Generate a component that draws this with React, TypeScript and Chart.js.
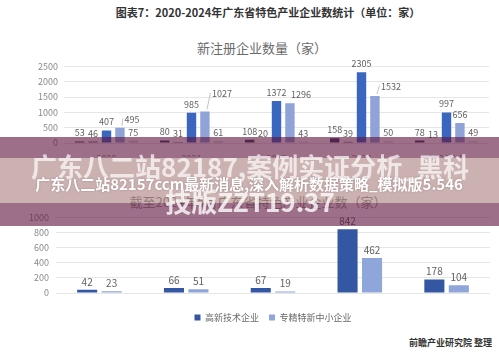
import React, { useEffect, useRef } from "react";
import { Chart, registerables } from "chart.js";

Chart.register(...registerables);

const FONT = '"Noto Sans CJK SC", "Noto Sans", sans-serif';
Chart.defaults.font.family = FONT;

// ---------- data ----------
const years = ["2020", "2021", "2022", "2023", "2024.1-5"];
const industries = ["新能源汽车", "生物医药", "人工智能", "集成电路", "无人机"];
const newEnergyNew = [53, 80, 108, 158, 78];
const bioMedNew = [46, 31, 20, 39, 13];
const aiNew = [407, 985, 1372, 2305, 997];
const icNew = [495, 1027, 1296, 1532, 656];
const droneNew = [75, 61, 43, 50, 49];
const topYTicks = [0, 500, 1000, 1500, 2000, 2500];

const seriesNames = ["高新技术企业", "专精特新中小企业"];
const highTech = [42, 66, 67, 842, 178];
const smeSpecial = [23, 51, 19, 462, 104];
const bottomYTicks = [0, 200, 400, 600, 800, 1000];

// ---------- styles ----------
const topColors = ["#3a4268", "#6f6f78", "#3a66bf", "#8fa3d8", "#c8c8cc"];
const bottomColors = ["#3457a3", "#8ea6d9"];
// label offsets (dx, dy) for the 4th series of the top chart
const topLabelOffsets: Record<number, number[][]> = {
  3: [[12, 0], [17, -9], [11, 0], [16, -1], [0, 0]],
};

function makeLabelPlugin(id: string, size: number, color: string, gap: number, offsets?: Record<number, number[][]>) {
  return {
    id,
    afterDatasetsDraw(chart: any) {
      const ctx = chart.ctx;
      ctx.save();
      ctx.font = `${size}px ${FONT}`;
      ctx.fillStyle = color;
      ctx.textAlign = "center";
      ctx.textBaseline = "middle";
      chart.data.datasets.forEach((ds: any, di: number) => {
        const meta = chart.getDatasetMeta(di);
        meta.data.forEach((bar: any, i: number) => {
          const off = offsets && offsets[di] ? offsets[di][i] : [0, 0];
          const x = bar.x + off[0];
          const y = bar.y - gap + off[1];
          const txt = String(ds.data[i]);
          if (off[0] >= 12) {
            const w = ctx.measureText(txt).width;
            ctx.strokeStyle = "#b5b5b5";
            ctx.lineWidth = 0.8;
            ctx.beginPath();
            ctx.moveTo(bar.x + 2, bar.y - 2);
            ctx.lineTo(x - w / 2 - 1.5, y - 1);
            ctx.stroke();
          }
          ctx.fillText(txt, x, y);
        });
      });
      ctx.restore();
    },
  };
}

const plainTick = (v: any) => String(v);

function topConfig(): any {
  const series = [newEnergyNew, bioMedNew, aiNew, icNew, droneNew];
  return {
    type: "bar",
    data: {
      labels: years,
      datasets: series.map((d, i) => ({
        label: industries[i],
        data: d,
        backgroundColor: topColors[i],
        categoryPercentage: 0.79,
        barPercentage: 0.7,
      })),
    },
    options: {
      responsive: false,
      animation: false,
      layout: { padding: { top: 8, right: 10, left: 0, bottom: 0 } },
      plugins: { legend: { display: false }, tooltip: { enabled: false }, title: { display: false } },
      scales: {
        x: {
          grid: { display: false },
          border: { display: false },
          ticks: { font: { size: 9 }, color: "#8a8a8a", padding: 2, maxRotation: 0, autoSkip: false },
          afterFit: (s: any) => { s.height = 14; },
        },
        y: {
          min: 0,
          max: 2500,
          afterBuildTicks: (s: any) => { s.ticks = topYTicks.map((v) => ({ value: v })); },
          ticks: { font: { size: 9 }, color: "#8a8a8a", padding: 6, callback: plainTick },
          grid: { color: "#e6e6e6", drawTicks: false, lineWidth: 1 },
          border: { display: false },
          afterFit: (s: any) => { s.width = 64; },
        },
      },
    },
    plugins: [makeLabelPlugin("topLabels", 9, "#5f5f5f", 8.5, topLabelOffsets)],
  };
}

function bottomConfig(): any {
  const series = [highTech, smeSpecial];
  return {
    type: "bar",
    data: {
      labels: industries,
      datasets: series.map((d, i) => ({
        label: seriesNames[i],
        data: d,
        backgroundColor: bottomColors[i],
        categoryPercentage: 0.564,
        barPercentage: 0.82,
      })),
    },
    options: {
      responsive: false,
      animation: false,
      layout: { padding: { top: 12, right: 9, left: 0, bottom: 0 } },
      plugins: {
        tooltip: { enabled: false },
        legend: {
          position: "bottom",
          fullSize: false,
          labels: { boxWidth: 6, boxHeight: 6, padding: 10, font: { size: 9 }, color: "#6a6a6a" },
        },
      },
      scales: {
        x: {
          grid: { display: false },
          border: { display: false },
          ticks: { font: { size: 9 }, color: "#7a7a7a", padding: 7, maxRotation: 0, autoSkip: false },
          afterFit: (s: any) => { s.height = 10; },
        },
        y: {
          min: 0,
          max: 1000,
          afterBuildTicks: (s: any) => { s.ticks = bottomYTicks.map((v) => ({ value: v })); },
          ticks: { font: { size: 9 }, color: "#8a8a8a", padding: 7, callback: plainTick },
          grid: { color: "#e6e6e6", drawTicks: false },
          border: { display: false },
          afterFit: (s: any) => { s.width = 56; },
        },
      },
    },
    plugins: [makeLabelPlugin("bottomLabels", 10, "#5f5f5f", 8, undefined)],
  };
}

function ChartCanvas({ make, top, width, height }: { make: () => any; top: number; width: number; height: number }) {
  const ref = useRef<HTMLCanvasElement>(null);
  useEffect(() => {
    const chart = new Chart(ref.current as HTMLCanvasElement, make());
    return () => chart.destroy();
  }, []);
  return (
    <canvas
      ref={ref}
      width={width}
      height={height}
      style={{ position: "absolute", left: 0, top, width, height }}
    />
  );
}

function Txt({ x, y, size, color, bold, children, extra }: any) {
  return (
    <div
      style={{
        position: "absolute",
        left: x,
        top: y,
        transform: "translate(-50%, -50%)",
        whiteSpace: "nowrap",
        fontFamily: FONT,
        fontSize: size,
        lineHeight: 1,
        color,
        fontWeight: bold ? 700 : 400,
        ...(extra || {}),
      }}
    >
      {children}
    </div>
  );
}

export default function App() {
  return (
    <div
      style={{
        position: "absolute",
        left: 0,
        top: 0,
        width: 499,
        height: 363,
        background: "#ffffff",
        overflow: "hidden",
      }}
    >
      <Txt x={268} y={12} size={11} color="#333" bold>
        图表7：2020-2024年广东省特色产业企业数统计（单位：家）
      </Txt>
      <Txt x={262} y={47} size={13} color="#6b6b6b">
        新注册企业数量（家）
      </Txt>
      <ChartCanvas make={topConfig} top={55} width={499} height={102} />

      <Txt x={258} y={201} size={13} color="#9a9a9a">
        截至2024年5月广东省特色产业企业数（家）
      </Txt>
      <ChartCanvas make={bottomConfig} top={205} width={499} height={127} />

      <div style={{ position: "absolute", right: 7, top: 337, fontFamily: FONT, fontSize: 9, lineHeight: "12px", color: "#333", fontWeight: 700, whiteSpace: "nowrap" }}>
        前瞻产业研究院 整理
      </div>

      {/* overlay banner */}
      <div style={{ position: "absolute", left: 0, top: 137, width: 499, height: 21, background: "rgba(97,20,61,0.61)" }} />
      <div style={{ position: "absolute", left: 0, top: 158, width: 499, height: 45, background: "rgba(140,85,80,0.45)" }} />
      <div style={{ position: "absolute", left: 0, top: 203, width: 499, height: 23, background: "rgba(97,20,61,0.61)" }} />

      <Txt x={250} y={166} size={26} color="rgba(255,255,255,0.7)" bold>
        广东八二站82187,案例实证分析_黑科
      </Txt>
      <Txt x={250} y={201} size={26} color="rgba(255,255,255,0.8)" bold>
        技版ZZT19.37
      </Txt>
      <Txt x={249} y={183} size={15} color="#ffffff" bold extra={{ textShadow: "0 0 2px rgba(80,40,50,0.35)" }}>
        广东八二站82157ccm最新消息,深入解析数据策略_模拟版5.546
      </Txt>
    </div>
  );
}
